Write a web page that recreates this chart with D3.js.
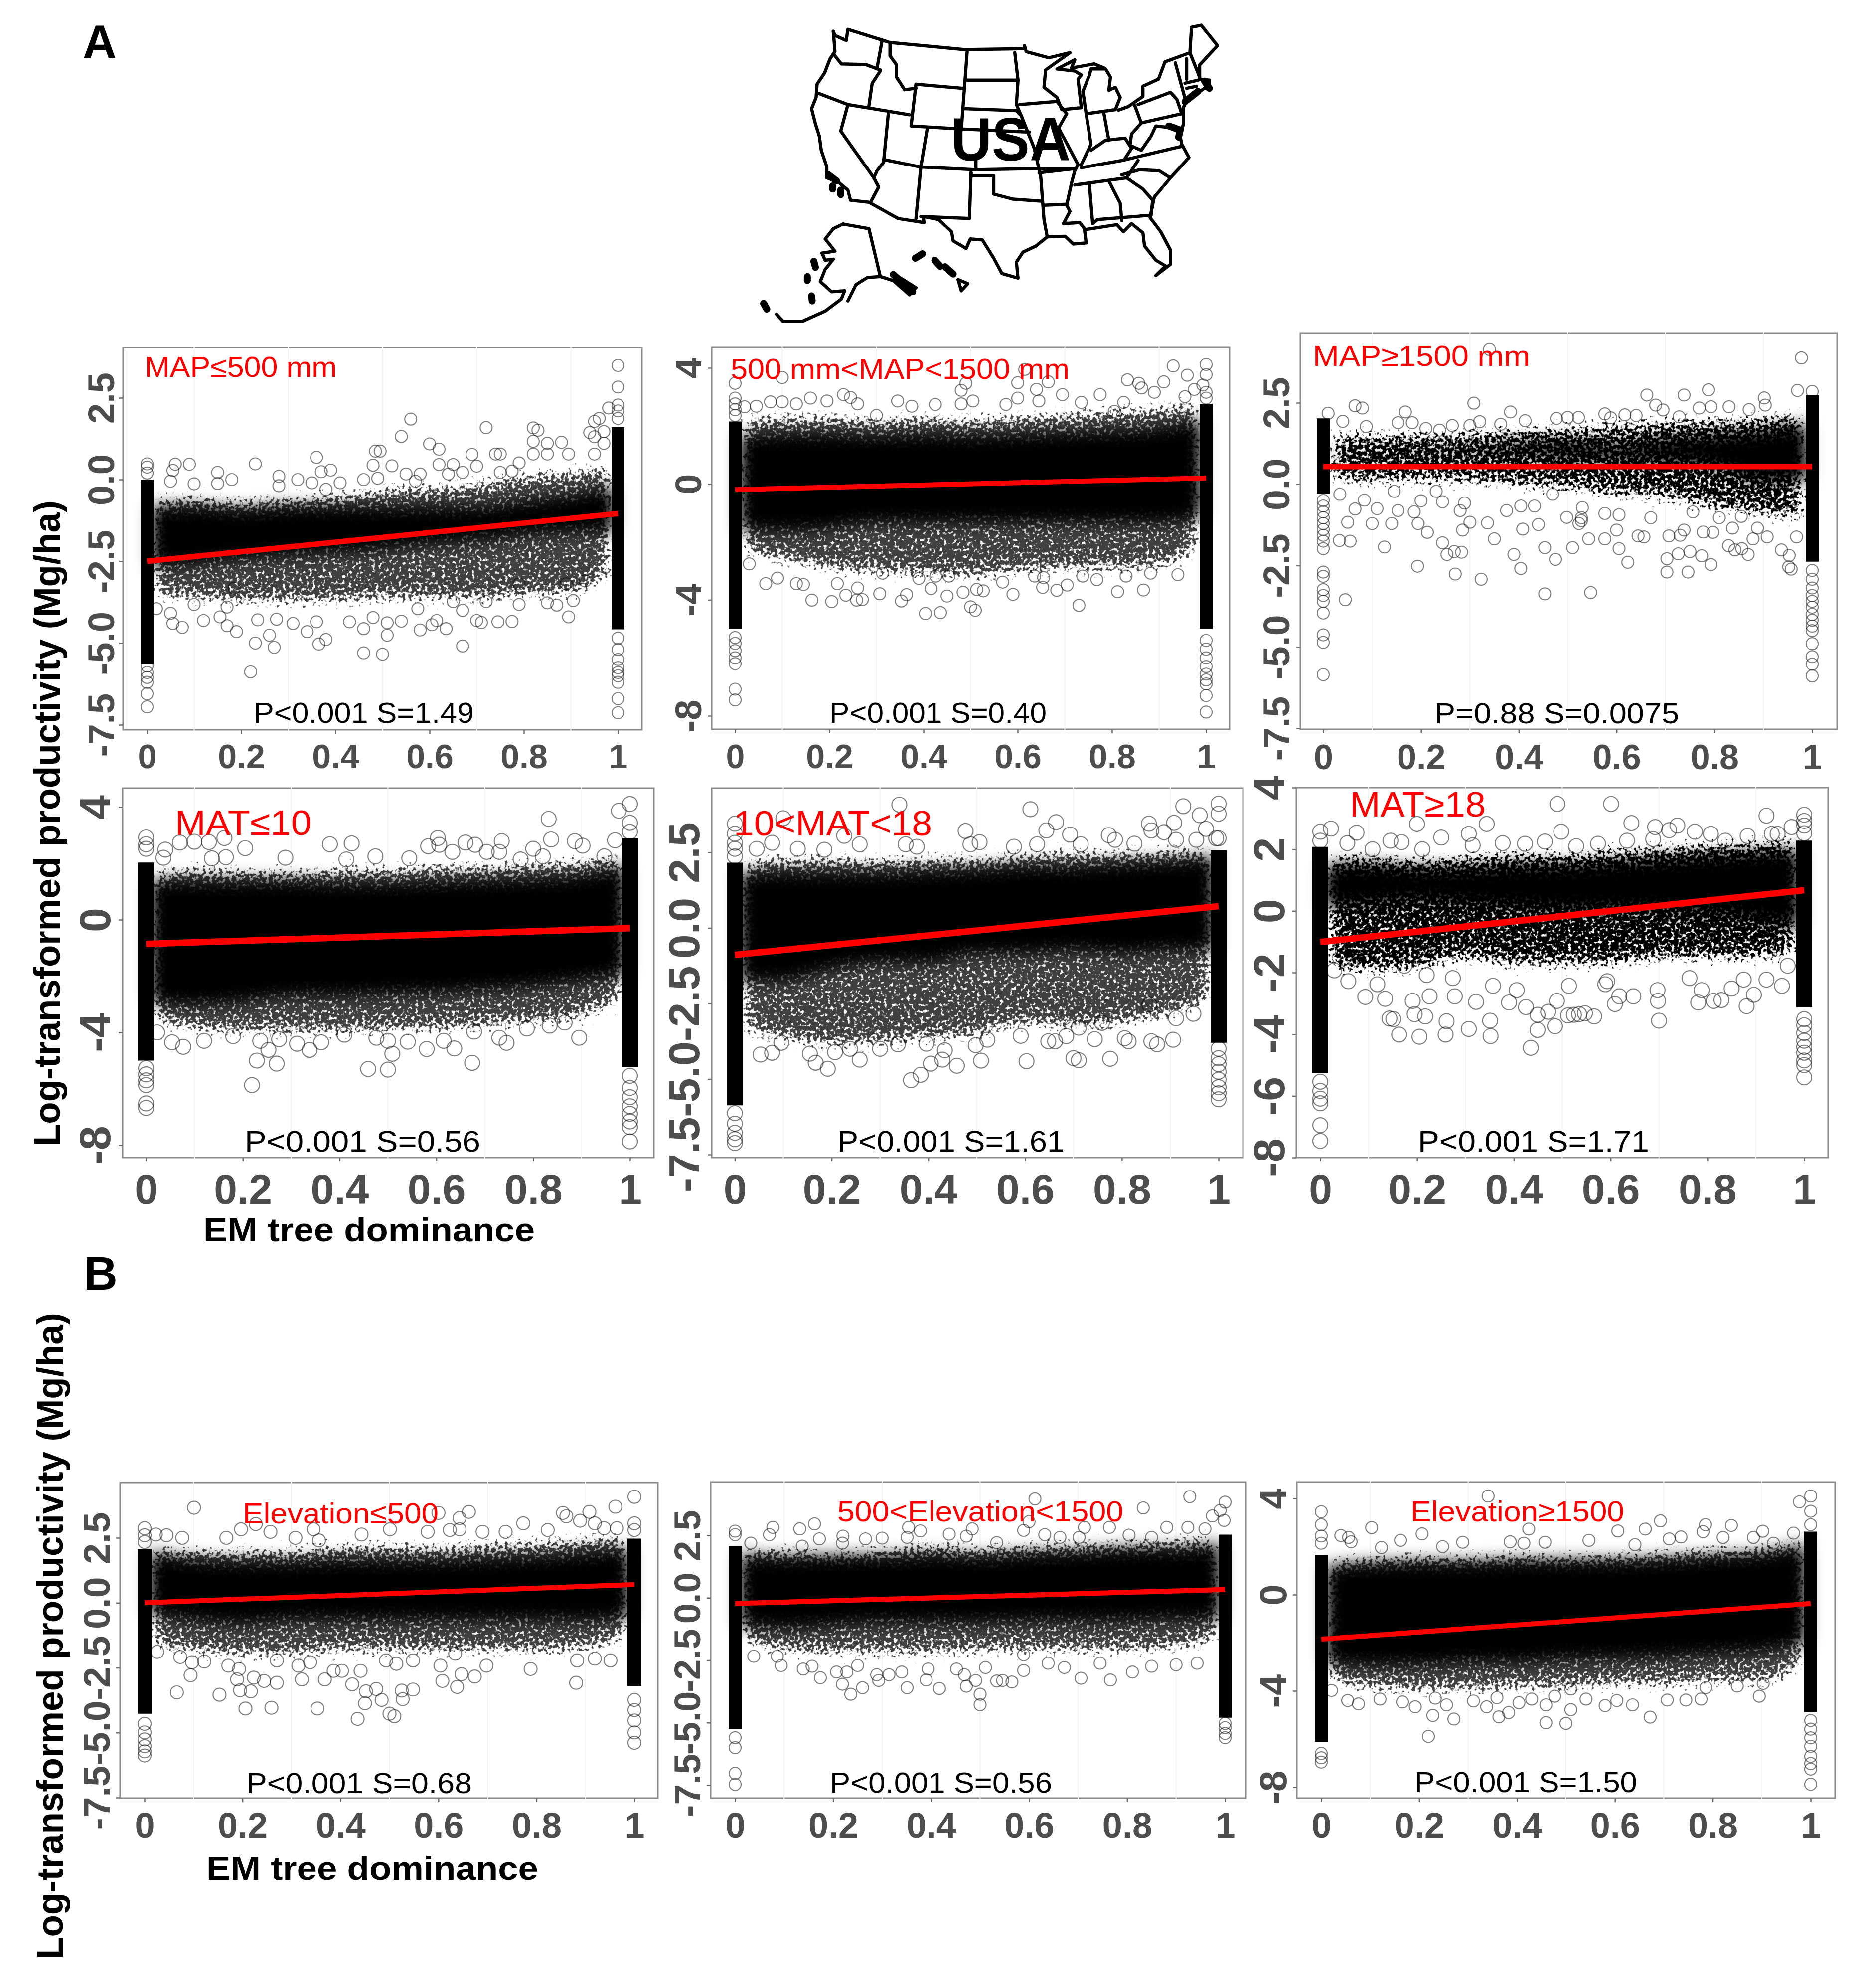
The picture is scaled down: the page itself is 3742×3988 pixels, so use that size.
<!DOCTYPE html>
<html>
<head>
<meta charset="utf-8">
<script src="https://cdn.jsdelivr.net/npm/d3@7"></script>
<style>
  body { margin: 0; background: #fff; }
  text { font-family: "Liberation Sans", Arial, sans-serif; }
</style>
</head>
<body>
<script>
// ---- values ----
var bandX = [0.01, 0.1, 0.2, 0.3, 0.4, 0.5, 0.6, 0.7, 0.8, 0.9, 0.99];
var xTickValues = [0, 0.2, 0.4, 0.6, 0.8, 1];
var xTickLabels = ["0", "0.2", "0.4", "0.6", "0.8", "1"];
var yTicksWide = [2.5, 0, -2.5, -5, -7.5];
var yLabelsWide = ["2.5", "0.0", "-2.5", "-5.0", "-7.5"];
var yTicksFour = [4, 0, -4, -8];
var yLabelsFour = ["4", "0", "-4", "-8"];
var yTicksTwo = [4, 2, 0, -2, -4, -6, -8];
var yLabelsTwo = ["4", "2", "0", "-2", "-4", "-6", "-8"];

var panelTags = ["MAP≤500 mm", "500 mm<MAP<1500 mm", "MAP≥1500 mm", "MAT≤10", "10<MAT<18", "MAT≥18",
  "Elevation≤500", "500<Elevation<1500", "Elevation≥1500"];
var panelStats = ["P<0.001 S=1.49", "P<0.001 S=0.40", "P=0.88 S=0.0075", "P<0.001 S=0.56", "P<0.001 S=1.61",
  "P<0.001  S=1.71", "P<0.001 S=0.68", "P<0.001 S=0.56", "P<0.001 S=1.50"];
// fitted line: y at x=0, y at x=1
var fitLines = [[-2.5, -1.04], [-0.2, 0.2], [0.54, 0.54], [-0.86, -0.3], [-0.89, 0.72], [-1.01, 0.67], [0, 0.7], [-0.23, 0.33], [-1.85, -0.37]];
// solid column of points at x=0 and x=1: top, bottom
var stripZero = [[0, -5.65], [2.15, -5], [2.02, -0.3], [2.03, -5], [2.16, -5.87], [2.08, -5.25], [2.07, -4.27], [2.07, -5.26], [1.66, -6.12]];
var stripOne = [[1.6, -4.58], [2.76, -5], [2.74, -2.38], [2.9, -5.22], [2.57, -3.8], [2.28, -3.12], [2.47, -3.21], [2.53, -4.8], [2.62, -4.88]];

var mapLowCoreTop = [-0.82, -0.82, -0.9, -0.82, -0.82, -0.82, -0.82, -0.82, -0.64, -0.46, -0.19];
var mapLowCoreBottom = [-2.7, -2.6, -2.43, -2.34, -2.25, -2.16, -1.98, -1.89, -1.71, -1.62, -1.62];
var mapLowEdgeTop = [-0.46, -0.46, -0.55, -0.46, -0.37, -0.19, -0.1, 0, 0.26, 0.35, 0.62];
var mapLowEdgeBottom = [-3.68, -3.77, -3.86, -3.86, -3.86, -3.77, -3.77, -3.77, -3.68, -3.6, -2.97];
var mapLowPoints = [[0.09,0.47],[0.06,0.47],[0.055,0.28],[0.05,-0.05],[0.1,-0.13],[0.15,0.22],[0.15,-0.12],[0.18,0],[0.23,0.48],[0.28,0.1],[0.28,-0.19],[0.32,0],[0.35,-0.1],[0.36,0.68],[0.37,0.24],[0.39,0.29],[0.38,-0.3],[0.41,-0.1],[0.46,0],[0.48,0.44],[0.485,0.87],[0.495,0.87],[0.49,0.04],[0.52,0.42],[0.54,1.32],[0.56,1.85],[0.55,0.17],[0.57,-0.05],[0.58,0.17],[0.6,1.09],[0.62,0.93],[0.62,0.46],[0.65,0.46],[0.64,0.17],[0.67,0.22],[0.69,0.77],[0.7,0.41],[0.72,1.59],[0.74,0.78],[0.75,0.78],[0.75,0.22],[0.775,0.26],[0.79,0.51],[0.82,1.58],[0.83,1.51],[0.82,1.17],[0.82,0.78],[0.85,1.11],[0.85,0.78],[0.88,1.14],[0.895,0.78],[0.94,1.44],[0.95,1.78],[0.96,1.87],[0.98,2.19],[0.97,1.47],[0.95,1.31],[0.97,1.11],[0.95,0.78],
  [0.02,-3.95],[0.05,-4.09],[0.055,-4.4],[0.075,-4.52],[0.12,-4.31],[0.155,-4.2],[0.17,-4.47],[0.19,-4.65],[0.235,-4.29],[0.23,-5],[0.27,-5.13],[0.22,-5.88],[0.26,-4.76],[0.275,-4.27],[0.31,-4.4],[0.34,-4.65],[0.36,-4.35],[0.365,-5.03],[0.38,-4.89],[0.43,-4.35],[0.46,-4.56],[0.48,-4.22],[0.46,-5.3],[0.5,-5.34],[0.51,-4.76],[0.51,-4.38],[0.54,-4.33],[0.575,-3.95],[0.58,-4.6],[0.605,-4.44],[0.615,-4.31],[0.635,-4.56],[0.67,-5.09],[0.67,-4],[0.7,-4.31],[0.71,-4.37],[0.745,-4.35],[0.775,-4.34],[0.79,-3.82],[0.85,-3.77],[0.87,-3.84],[0.905,-3.7],[0.895,-4.2],[0.93,-3.1],[0.89,-3.19],[0.79,-3.19],[0.65,-3.73],[0.185,-3.32],[0.17,-3.9],[0.1,-3.82],[0.72,-3.73],
  [0,0.48],[0,0.38],[0,0.2],[0,-5.7],[0,-5.9],[0,-6.05],[0,-6.2],[0,-6.55],[0,-6.95],
  [1,3.49],[1,2.83],[1,2.28],[1,2.1],[1,1.87],[1,-4.85],[1,-5.2],[1,-5.5],[1,-5.75],[1,-5.9],[1,-6],[1,-6.2],[1,-6.7],[1,-7.13]];

var mapMidCoreTop = [1.65, 1.75, 1.75, 1.7, 1.75, 1.7, 1.75, 1.8, 1.85, 1.95, 2.25];
var mapMidCoreBottom = [-1.57, -1.67, -1.57, -1.37, -1.37, -1.37, -1.37, -1.37, -1.37, -1.37, -1.17];
var mapMidEdgeTop = [2.35, 2.45, 2.45, 2.35, 2.45, 2.35, 2.45, 2.55, 2.65, 2.75, 2.95];
var mapMidEdgeBottom = [-2.48, -2.78, -3.08, -3.18, -3.28, -3.33, -3.18, -3.08, -3.08, -2.98, -2.38];
var mapMidPoints = [[0,3.47],[0,2.96],[0.02,2.66],[0.045,2.68],[0.075,2.83],[0.1,2.83],[0.1,3.67],[0.13,2.76],[0.16,2.96],[0.195,2.86],[0.23,3.08],[0.245,2.98],[0.26,2.76],[0.3,2.36],[0.345,2.86],[0.375,2.68],[0.425,2.74],[0.48,3.23],[0.49,3.47],[0.505,2.86],[0.48,2.76],[0.575,2.74],[0.6,2.96],[0.6,3.49],[0.615,3.95],[0.64,3.26],[0.665,3.52],[0.645,2.86],[0.695,3.08],[0.735,2.81],[0.775,3.08],[0.805,2.5],[0.833,3.59],[0.857,3.47],[0.863,3.31],[0.89,3.16],[0.91,3.52],[0.93,4.07],[0.96,3.75],[0.993,3.41],[0.975,3.26],[0.955,3.01],[0.825,2.81],
  [1,4.12],[1,3.77],[1,3.16],[1,2.96],[0,2.76],[0,2.56],[0,2.36],
  [0.065,-3.44],[0.09,-3.25],[0.03,-2.76],[0.13,-3.44],[0.145,-3.47],[0.163,-4.01],[0.205,-4.06],[0.217,-3.44],[0.235,-3.84],[0.258,-4.01],[0.27,-3.99],[0.26,-3.59],[0.307,-3.79],[0.353,-4.04],[0.364,-3.82],[0.313,-3.08],[0.39,-3.26],[0.416,-3.61],[0.426,-3.18],[0.404,-4.47],[0.436,-4.44],[0.45,-3.87],[0.484,-3.74],[0.5,-4.24],[0.51,-4.36],[0.513,-3.64],[0.527,-3.69],[0.568,-3.39],[0.59,-3.81],[0.653,-3.57],[0.655,-3.23],[0.683,-3.67],[0.705,-3.49],[0.73,-4.19],[0.768,-3.3],[0.812,-3.72],[0.867,-3.66],[0.882,-3.08],[0.94,-3.13],[0.738,-3.18],[0.83,-3.18],[0.636,-3.18],[0.454,-3.18],
  [0,-5.3],[0,-5.5],[0,-5.75],[0,-6],[0,-6.2],[0,-7.08],[0,-7.45],
  [1,-5.4],[1,-5.7],[1,-6],[1,-6.3],[1,-6.56],[1,-6.76],[1,-6.9],[1,-7.3],[1,-7.87]];

var mapHighCoreTop = [1, 1, 1.05, 1.1, 1.25, 1.3, 1.2, 1.4, 1.5, 1.65, 1.85];
var mapHighCoreBottom = [0.95, 0.95, 0.95, 0.95, 0.95, 0.8, 0.75, 0.7, 0.5, 0.1, 0.1];
var mapHighEdgeTop = [1.7, 1.7, 1.7, 1.75, 1.85, 1.9, 2, 2.1, 2.15, 2.2, 2.4];
var mapHighEdgeBottom = [-0.1, -0.1, -0.05, -0.1, -0.2, -0.3, -0.5, -0.6, -0.9, -1.1, -1.3];
var mapHighPoints = [[0.01,2.18],[0.04,1.93],[0.065,2.41],[0.08,2.34],[0.088,1.77],[0.168,2.22],[0.153,1.89],[0.182,1.89],[0.21,1.71],[0.238,1.66],[0.308,2.49],[0.264,1.8],[0.32,1.92],[0.3,1.8],[0.383,2.22],[0.413,1.95],[0.363,1.84],[0.477,2.02],[0.5,2.05],[0.522,2.05],[0.576,2.16],[0.588,2.04],[0.617,2.13],[0.64,2.11],[0.662,2.74],[0.68,2.43],[0.695,2.28],[0.738,2.74],[0.788,2.9],[0.793,2.38],[0.83,2.38],[0.902,2.65],[0.904,2.43],[0.97,2.88],[0.978,3.88],[0.34,4.14],[0.728,2.07],[0.769,2.34],[0.871,2.29],
  [0,-0.5],[0,-0.67],[0,-0.85],[0,-1.03],[0,-1.21],[0,-1.39],[0,-1.57],[0,-1.75],[0,-1.98],[0,-2.7],[0,-2.83],[0,-3.24],[0,-3.42],[0,-3.6],[0,-3.96],[0,-4.63],[0,-4.86],[0,-5.85],
  [1,2.85],[1,-2.65],[1,-2.92],[1,-3.19],[1,-3.42],[1,-3.6],[1,-3.78],[1,-4],[1,-4.18],[1,-4.36],[1,-4.5],[1,-4.9],[1,-5.3],[1,-5.53],[1,-5.89],
  [0.045,-3.55],[0.055,-1.75],[0.033,-1.73],[0.05,-1.17],[0.065,-0.76],[0.1,-1.21],[0.125,-1.93],[0.14,-1.21],[0.11,-0.75],[0.153,-0.81],[0.186,-0.85],[0.194,-1.21],[0.2,-0.51],[0.213,-1.48],[0.193,-2.52],[0.244,-0.54],[0.244,-1.8],[0.253,-2.16],[0.268,-2.07],[0.283,-2.09],[0.27,-2.76],[0.323,-2.92],[0.285,-1.41],[0.289,-0.58],[0.336,-1.19],[0.35,-1.68],[0.3,-1.17],[0.39,-2.16],[0.404,-2.59],[0.408,-1.38],[0.404,-0.67],[0.432,-0.67],[0.44,-1.24],[0.453,-1.95],[0.475,-2.31],[0.453,-3.37],[0.547,-3.33],[0.51,-1.95],[0.498,-1.02],[0.528,-1.12],[0.528,-1.03],[0.543,-1.68],[0.576,-1.68],[0.576,-0.9],[0.6,-1.41],[0.605,-1.98],[0.623,-2.4],[0.605,-0.94],[0.644,-1.59],[0.656,-1.62],[0.703,-2.29],[0.703,-2.7],[0.746,-2.7],[0.726,-2.14],[0.75,-2.07],[0.774,-2.2],[0.793,-2.47],[0.707,-1.59],[0.73,-1.57],[0.738,-1.41],[0.756,-0.85],[0.777,-1.47],[0.797,-1.48],[0.829,-1.89],[0.842,-2.02],[0.856,-1.98],[0.869,-2.16],[0.837,-1.35],[0.879,-1.68],[0.908,-1.62],[0.937,-2.02],[0.953,-2.19],[0.957,-2.61],[0.952,-2.54],[0.968,-1.62],[0.855,-0.99],[0.888,-1.35],[0.67,-1.03],[0.53,-0.72],[0.469,-0.31],[0.375,-0.81],[0.28,-0.81],[0.231,-0.22],[0.145,-0.22],[0.034,-0.31],[0.084,-0.49],[0.523,-1.21],[0.81,-1.03]];

var matLowCoreTop = [1.39, 1.39, 1.39, 1.39, 1.33, 1.33, 1.39, 1.44, 1.49, 1.6, 1.93];
var matLowCoreBottom = [-2.94, -3.05, -2.94, -2.73, -2.73, -2.67, -2.62, -2.51, -2.4, -2.19, -1.97];
var matLowEdgeTop = [1.82, 1.93, 1.87, 1.82, 1.93, 1.93, 2.03, 2.03, 2.14, 2.2, 2.47];
var matLowEdgeBottom = [-3.7, -4.03, -4.13, -4.13, -4.13, -4.08, -4.03, -3.92, -3.81, -3.59, -2.94];
var matLowPoints = [[0.04,2.49],[0.036,2.2],[0.07,2.74],[0.1,2.77],[0.13,2.76],[0.162,2.9],[0.136,2.18],[0.165,2.22],[0.205,2.54],[0.288,2.2],[0.38,2.68],[0.425,2.71],[0.414,2.14],[0.474,2.25],[0.544,2.18],[0.583,2.61],[0.603,2.9],[0.606,2.66],[0.633,2.41],[0.66,2.74],[0.68,2.66],[0.735,2.79],[0.704,2.41],[0.73,2.41],[0.8,2.52],[0.832,3.58],[0.837,2.85],[0.886,2.79],[0.902,2.63],[0.969,2.82],[0.977,3.87],[0.947,2.25],[0.82,2.25],[0.774,2.14],
  [1,4.11],[1,3.44],[1,3.12],[0,2.92],[0,2.68],[0,2.52],
  [0.023,-4],[0.054,-4.35],[0.077,-4.51],[0.12,-4.3],[0.18,-4.13],[0.219,-5.87],[0.229,-5],[0.27,-5.11],[0.253,-4.62],[0.275,-4.24],[0.236,-4.3],[0.312,-4.4],[0.338,-4.62],[0.362,-4.35],[0.41,-4.08],[0.459,-5.3],[0.5,-5.32],[0.509,-4.76],[0.5,-4.3],[0.476,-4.19],[0.541,-4.33],[0.58,-4.59],[0.615,-4.3],[0.637,-4.57],[0.674,-5.08],[0.678,-3.97],[0.73,-4.19],[0.745,-4.37],[0.787,-3.86],[0.834,-3.76],[0.865,-3.65],[0.895,-4.19],
  [0,-5.27],[0,-5.49],[0,-5.7],[0,-5.87],[0,-6.52],[0,-6.68],
  [1,-5.54],[1,-5.97],[1,-6.3],[1,-6.62],[1,-6.89],[1,-7.16],[1,-7.36],[1,-7.87]];

var matMidCoreTop = [1.81, 1.86, 1.86, 1.86, 1.91, 1.96, 2.06, 2.06, 2.16, 2.21, 2.37];
var matMidCoreBottom = [-1.78, -1.78, -1.38, -1.17, -1.17, -0.87, -0.87, -0.77, -0.87, -0.77, -0.77];
var matMidEdgeTop = [2.26, 2.42, 2.42, 2.37, 2.42, 2.42, 2.57, 2.62, 2.62, 2.67, 2.72];
var matMidEdgeBottom = [-3.5, -3.8, -4, -3.95, -3.8, -3.7, -3.3, -3.4, -3.3, -3, -2.49];
var matMidPoints = [[0,3.45],[0,3.12],[0.045,2.62],[0.077,2.82],[0.1,3.63],[0.13,2.62],[0.185,2.59],[0.226,3.05],[0.258,2.77],[0.34,4.08],[0.353,2.77],[0.376,2.69],[0.477,3.21],[0.506,2.84],[0.487,2.77],[0.577,2.69],[0.611,3.93],[0.625,2.77],[0.644,3.23],[0.664,3.5],[0.693,3.09],[0.715,2.77],[0.773,3.07],[0.786,2.92],[0.826,2.79],[0.856,3.45],[0.861,3.23],[0.887,3.17],[0.908,3.48],[0.927,4.03],[0.961,3.73],[0.974,3.28],[0.912,2.92],[0.954,2.92],[0.995,2.97],
  [1,4.11],[1,3.78],[1,2.97],[0,2.82],[0,2.62],[0,2.37],
  [0.053,-4.19],[0.077,-4.13],[0.096,-3.8],[0.155,-4.16],[0.167,-4.46],[0.192,-4.66],[0.258,-4.36],[0.207,-4.11],[0.238,-4],[0.3,-4],[0.337,-3.85],[0.364,-5.04],[0.384,-4.86],[0.405,-4.49],[0.396,-3.83],[0.434,-4.05],[0.429,-4.36],[0.459,-4.56],[0.509,-4.39],[0.498,-3.88],[0.522,-3.7],[0.591,-3.57],[0.603,-4.41],[0.648,-3.75],[0.662,-3.75],[0.685,-3.58],[0.7,-4.31],[0.711,-4.38],[0.744,-3.68],[0.776,-4.33],[0.711,-3.3],[0.806,-3.65],[0.814,-3.75],[0.861,-3.75],[0.873,-3.85],[0.906,-3.7],[0.912,-2.99],[0.948,-2.84],[0.759,-3.14],[0.857,-2.54],
  [0,-6.13],[0,-6.48],[0,-6.78],[0,-6.99],[0,-7.12],
  [1,-4],[1,-4.31],[1,-4.51],[1,-4.76],[1,-5.02],[1,-5.27],[1,-5.47],[1,-5.67]];

var matHighCoreTop = [1.49, 1.49, 1.39, 1.39, 1.49, 1.49, 1.58, 1.68, 1.78, 1.88, 1.98];
var matHighCoreBottom = [0.1, 0.2, 0.3, 0.2, 0.1, 0, 0, 0, -0.1, -0.3, -0.59];
var matHighEdgeTop = [1.88, 1.88, 1.78, 1.88, 1.98, 1.98, 2.08, 2.18, 2.28, 2.33, 2.48];
var matHighEdgeBottom = [-1.98, -2.08, -1.98, -1.68, -1.88, -1.88, -1.88, -1.68, -1.68, -1.68, -1.49];
var matHighPoints = [[0,2.57],[0.022,2.67],[0.075,2.54],[0.056,2.2],[0.108,2],[0.145,2.28],[0.168,2.23],[0.2,2.82],[0.211,2],[0.25,2.38],[0.307,2.5],[0.344,2.82],[0.315,2.13],[0.377,2.2],[0.423,2.18],[0.464,2.25],[0.49,3.47],[0.498,2.57],[0.529,2.1],[0.601,3.47],[0.574,2.18],[0.643,2.85],[0.692,2.72],[0.738,2.77],[0.721,2.62],[0.774,2.57],[0.807,2.5],[0.688,2.33],[0.634,2.28],[0.837,2.28],[0.883,2.43],[0.922,3.09],[0.933,2.5],[0.945,2.5],[0.974,2.72],
  [1,3.12],[1,2.92],[1,2.77],[1,2.52],[0,2.28],
  [0.029,-1.93],[0.058,-2.28],[0.093,-2.79],[0.134,-2.85],[0.118,-2.38],[0.143,-3.49],[0.151,-3.51],[0.163,-4.01],[0.205,-4.08],[0.191,-2.92],[0.195,-3.35],[0.217,-3.42],[0.259,-4.01],[0.261,-3.58],[0.307,-3.83],[0.352,-4.06],[0.351,-3.56],[0.322,-2.95],[0.278,-2.77],[0.226,-2.77],[0.39,-2.97],[0.425,-3.12],[0.449,-3.37],[0.449,-3.86],[0.435,-4.44],[0.485,-3.74],[0.489,-2.92],[0.471,-3.27],[0.512,-3.39],[0.524,-3.37],[0.535,-3.35],[0.547,-3.32],[0.566,-3.42],[0.609,-3.02],[0.618,-2.77],[0.589,-2.38],[0.647,-2.77],[0.698,-2.92],[0.7,-3.56],[0.697,-2.57],[0.781,-2.97],[0.813,-2.92],[0.829,-2.89],[0.788,-2.57],[0.85,-2.52],[0.881,-3.09],[0.896,-2.72],[0.922,-2.23],[0.954,-2.43],[0.875,-2.23],[0.763,-2.18],[0.966,-1.78],[0.357,-2.43],[0.274,-2.18],[0.174,-1.78],[0.514,-2.43],[0.593,-2.28],[0.22,-2.08],[0.406,-2.57],
  [0,-5.54],[0,-5.84],[0,-6.09],[0,-6.24],[0,-6.95],[0,-7.46],
  [1,-3.51],[1,-3.71],[1,-3.96],[1,-4.21],[1,-4.41],[1,-4.6],[1,-4.85],[1,-5],[1,-5.4]];

var elevLowCoreTop = [1.94, 1.68, 1.61, 1.61, 1.68, 1.68, 1.68, 1.74, 1.81, 1.94, 2.07];
var elevLowCoreBottom = [-0.44, -0.7, -0.83, -0.7, -0.7, -0.7, -0.7, -0.7, -0.7, -0.7, -0.57];
var elevLowEdgeTop = [2.34, 2.14, 2.14, 2.14, 2.34, 2.34, 2.27, 2.4, 2.47, 2.6, 2.73];
var elevLowEdgeBottom = [-1.76, -2.02, -2.15, -2.15, -2.02, -2.02, -2.02, -2.02, -2.02, -1.89, -1.49];
var elevLowPoints = [[0,2.87],[0.023,2.63],[0.045,2.6],[0.077,2.5],[0.101,3.66],[0.167,2.5],[0.197,2.83],[0.227,3.03],[0.257,2.73],[0.308,2.5],[0.345,2.83],[0.356,2.4],[0.443,2.63],[0.501,2.83],[0.578,2.73],[0.6,3.46],[0.623,2.8],[0.643,3.26],[0.662,3.5],[0.643,2.83],[0.69,2.73],[0.737,2.73],[0.773,3.06],[0.823,2.8],[0.854,3.46],[0.861,3.33],[0.889,3.16],[0.908,3.5],[0.919,3.06],[0.961,3.7],[0.938,2.87],[0.964,2.87],[1,4.08],
  [0,2.6],[0,2.34],[1,3.06],[1,2.8],
  [0.026,-1.89],[0.073,-2.09],[0.066,-3.45],[0.094,-2.79],[0.097,-2.29],[0.153,-3.54],[0.122,-2.26],[0.171,-2.42],[0.193,-2.55],[0.189,-2.95],[0.195,-3.37],[0.217,-3.41],[0.206,-4.07],[0.259,-4.04],[0.223,-2.88],[0.244,-3.01],[0.27,-3.08],[0.321,-2.95],[0.314,-2.42],[0.338,-2.29],[0.353,-4.07],[0.368,-2.95],[0.386,-2.62],[0.403,-2.62],[0.441,-2.62],[0.424,-3.14],[0.452,-3.41],[0.473,-3.32],[0.45,-3.87],[0.484,-3.74],[0.435,-4.47],[0.5,-4.27],[0.51,-4.37],[0.525,-3.38],[0.548,-3.34],[0.527,-3.71],[0.608,-3.01],[0.638,-3.24],[0.647,-2.75],[0.674,-2.84],[0.698,-2.42],[0.788,-2.55],[0.881,-3.08],[0.883,-2.22],[0.919,-2.15],[0.951,-2.22],[0.604,-2.42],[0.514,-2.35],[0.493,-2.22],[0.548,-2.22],[0.634,-1.96],[0.27,-2.22],
  [0,-4.66],[0,-4.99],[0,-5.26],[0,-5.52],[0,-5.72],[0,-5.88],
  [1,-3.74],[1,-4.13],[1,-4.53],[1,-4.99],[1,-5.39]];

var elevMidCoreTop = [1.73, 1.62, 1.67, 1.67, 1.73, 1.67, 1.79, 1.84, 1.96, 1.96, 2.19];
var elevMidCoreBottom = [-1.13, -1.25, -1.13, -1.02, -1.02, -1.02, -0.96, -0.96, -0.96, -0.9, -0.9];
var elevMidEdgeTop = [2.07, 2.07, 1.9, 2.07, 2.25, 2.13, 2.25, 2.3, 2.36, 2.42, 2.53];
var elevMidEdgeBottom = [-1.94, -2.28, -2.39, -2.39, -2.39, -2.28, -2.28, -2.28, -2.28, -2.16, -1.82];
var elevMidPoints = [[0.032,2.19],[0.077,2.82],[0.07,2.53],[0.132,2.76],[0.137,2.07],[0.162,2.96],[0.172,2.36],[0.22,2.47],[0.219,2.19],[0.266,2.36],[0.3,2.39],[0.354,2.82],[0.378,2.68],[0.351,2.42],[0.437,2.55],[0.484,2.76],[0.472,2.47],[0.534,2.21],[0.612,3.96],[0.589,2.7],[0.6,3.05],[0.632,2.53],[0.663,2.42],[0.702,2.42],[0.713,2.82],[0.764,2.82],[0.804,2.51],[0.833,3.6],[0.881,2.82],[0.924,2.82],[0.928,4.05],[0.959,2.76],[0.974,3.28],[0.99,3.5],[0.998,3.1],[0.85,2.42],
  [0,2.67],[0,2.53],[1,3.83],
  [0.038,-2.34],[0.086,-2.34],[0.094,-2.71],[0.139,-2.85],[0.157,-2.74],[0.174,-3.2],[0.207,-2.97],[0.228,-2.97],[0.219,-3.46],[0.236,-3.86],[0.26,-3.6],[0.25,-2.71],[0.289,-3.08],[0.293,-3.31],[0.314,-3.08],[0.351,-3.6],[0.34,-2.97],[0.39,-3.29],[0.394,-2.85],[0.417,-3.63],[0.452,-2.85],[0.468,-3.08],[0.472,-3.54],[0.491,-3.31],[0.5,-3.86],[0.5,-4.28],[0.511,-2.79],[0.534,-3.33],[0.546,-3.31],[0.565,-3.37],[0.589,-2.91],[0.639,-2.62],[0.672,-2.79],[0.706,-3.22],[0.745,-2.62],[0.766,-3.29],[0.811,-2.97],[0.85,-2.74],[0.9,-2.68],[0.943,-2.62],[0.589,-2.28],
  [0,-5.6],[0,-6],[0,-7.03],[0,-7.47],
  [1,-5.03],[1,-5.2],[1,-5.43],[1,-5.6]];

var elevHighCoreTop = [1.19, 1.31, 1.37, 1.37, 1.43, 1.43, 1.43, 1.49, 1.6, 1.72, 2.08];
var elevHighCoreBottom = [-2.85, -2.97, -2.97, -2.85, -2.85, -2.73, -2.68, -2.62, -2.5, -2.38, -2.02];
var elevHighEdgeTop = [1.55, 1.66, 1.72, 1.72, 1.78, 1.72, 1.78, 1.9, 2.02, 2.08, 2.5];
var elevHighEdgeBottom = [-3.8, -4.04, -4.16, -4.16, -4.04, -4.04, -3.92, -3.92, -3.8, -3.8, -3.09];
var elevHighPoints = [[0.04,2.46],[0.056,2.38],[0.061,2.2],[0.103,2.79],[0.123,1.96],[0.162,2.26],[0.206,2.53],[0.248,2],[0.289,2.18],[0.341,4.1],[0.386,2.2],[0.414,2.14],[0.424,2.73],[0.457,2.18],[0.547,2.26],[0.606,2.65],[0.641,2.08],[0.662,2.73],[0.693,3.07],[0.711,2.32],[0.735,2.4],[0.785,2.91],[0.78,2.62],[0.838,2.88],[0.821,2.38],[0.902,2.64],[0.883,2.38],[0.965,2.56],[0.977,3.86],[0.924,2.14],
  [0,3.45],[0,2.91],[0,2.44],[0,2.14],[1,4.1],[1,3.47],[1,2.91],
  [0.021,-3.98],[0.054,-4.4],[0.076,-4.54],[0.12,-4.34],[0.166,-4.46],[0.192,-4.66],[0.233,-4.3],[0.228,-5.02],[0.271,-5.17],[0.219,-5.89],[0.256,-4.58],[0.311,-4.42],[0.338,-4.66],[0.363,-5.08],[0.383,-4.9],[0.404,-4.49],[0.43,-4.34],[0.459,-4.58],[0.459,-5.32],[0.5,-5.35],[0.51,-4.78],[0.477,-4.22],[0.541,-4.34],[0.58,-4.61],[0.604,-4.4],[0.636,-4.58],[0.672,-5.09],[0.707,-4.38],[0.745,-4.38],[0.776,-4.34],[0.786,-3.86],[0.895,-4.22],[0.903,-3.69],[0.85,-3.8],[0.51,-3.92],[0.359,-4.28],
  [0,-6.6],[0,-6.78],[0,-6.96],
  [1,-5.23],[1,-5.59],[1,-5.95],[1,-6.3],[1,-6.72],[1,-7.02],[1,-7.25],[1,-7.88]];

var coreTops = [mapLowCoreTop, mapMidCoreTop, mapHighCoreTop, matLowCoreTop, matMidCoreTop, matHighCoreTop, elevLowCoreTop, elevMidCoreTop, elevHighCoreTop];
var coreBottoms = [mapLowCoreBottom, mapMidCoreBottom, mapHighCoreBottom, matLowCoreBottom, matMidCoreBottom, matHighCoreBottom, elevLowCoreBottom, elevMidCoreBottom, elevHighCoreBottom];
var edgeTops = [mapLowEdgeTop, mapMidEdgeTop, mapHighEdgeTop, matLowEdgeTop, matMidEdgeTop, matHighEdgeTop, elevLowEdgeTop, elevMidEdgeTop, elevHighEdgeTop];
var edgeBottoms = [mapLowEdgeBottom, mapMidEdgeBottom, mapHighEdgeBottom, matLowEdgeBottom, matMidEdgeBottom, matHighEdgeBottom, elevLowEdgeBottom, elevMidEdgeBottom, elevHighEdgeBottom];
var allPoints = [mapLowPoints, mapMidPoints, mapHighPoints, matLowPoints, matMidPoints, matHighPoints, elevLowPoints, elevMidPoints, elevHighPoints];

// ---- traced outline of the map, in the inset's own units ----
var mapLines = [
  [[295,105],[298,160],[300,205],[285,240],[268,310],[245,365],[242,430],[228,485],[240,560],[252,620],[258,690],[275,770],[275,825],[310,845],[340,885],[348,935],[405,945],[495,1025],[575,1045],[572,1015],[620,1030],[660,1090],[665,1135],[705,1172],[718,1125],[755,1130],[790,1220],[815,1295],[865,1318],[860,1240],[880,1190],[920,1160],[955,1115],[1010,1112],[1035,1150],[1075,1145],[1070,1080],[1110,1070],[1170,1055],[1190,1090],[1215,1050],[1250,1095],[1255,1160],[1290,1230],[1320,1258],[1290,1305],[1335,1250],[1335,1180],[1305,1090],[1272,1020],[1285,920],[1335,825],[1392,725],[1370,660],[1365,620],[1375,560],[1375,480],[1385,445],[1440,385],[1455,390],[1455,345],[1425,340],[1425,270],[1480,175],[1430,75],[1400,85],[1395,210],[1318,255],[1298,340],[1250,375],[1250,425],[1205,475],[1175,492]],
  [[1025,210],[960,235],[890,205],[885,175],[885,190],[700,195],[470,160],[340,95],[335,150],[300,125],[295,105]],
  [[1025,210],[950,295],[945,380],[985,430],[1000,490],[1060,480],[1050,340],[1060,320],[1040,300],[985,290],[1040,245],[1030,285],[1100,265],[1130,285]],
  [[1085,320],[1065,400],[1075,510],[1165,490],[1180,430],[1165,380],[1145,395],[1150,330],[1135,290],[1090,290],[1085,320]],
  [[445,155],[430,285],[440,300],[415,360],[405,470]],
  [[470,165],[470,225],[490,270],[490,330],[515,392],[550,385]],
  [[295,215],[320,265],[395,268],[440,295]],
  [[250,410],[340,465],[530,515]],
  [[550,365],[695,385]],
  [[550,365],[535,570],[690,585],[900,600]],
  [[708,205],[695,480],[690,590]],
  [[340,465],[318,595],[420,825],[430,790],[450,750],[465,505]],
  [[420,825],[435,870],[410,945]],
  [[450,735],[565,772],[735,785],[915,780],[1040,780]],
  [[735,730],[735,785]],
  [[585,580],[565,772],[550,1025]],
  [[700,485],[860,495],[875,520]],
  [[708,345],[865,345]],
  [[855,210],[865,345],[860,465],[875,520],[915,680],[935,820],[945,1030],[955,1115]],
  [[870,465],[980,450]],
  [[985,450],[1015,510],[990,580],[1020,670],[1050,760],[1040,790],[1030,850],[1015,960],[1025,990],[1005,1050],[1055,1045],[1070,1075]],
  [[720,800],[715,1025],[565,1015]],
  [[720,800],[720,815],[790,815],[790,905],[850,930],[940,940]],
  [[945,960],[1015,955]],
  [[930,800],[1040,780]],
  [[1075,510],[1090,660],[1060,760]],
  [[1130,510],[1145,640]],
  [[1090,690],[1135,640],[1195,630],[1215,680],[1195,730]],
  [[1040,860],[1200,825],[1235,740]],
  [[1060,775],[1185,740],[1370,670]],
  [[1235,465],[1335,405],[1355,440],[1370,510],[1245,555]],
  [[1225,470],[1245,555],[1215,610],[1210,665],[1245,690],[1275,620],[1290,570],[1345,580]],
  [[1085,855],[1095,1050]],
  [[1145,840],[1180,950],[1185,1035]],
  [[1095,1050],[1110,1030],[1265,1010]],
  [[1200,825],[1250,880],[1280,935],[1275,1010]],
  [[1185,810],[1240,785],[1300,790],[1335,825]],
  [[1350,260],[1380,435]],
  [[1385,240],[1385,340]],
  [[1395,210],[1425,330]],
  [[1380,360],[1420,345]],
  [[1385,385],[1415,375]],
  // alaska
  [[325,1052],[295,1075],[270,1125],[300,1185],[260,1195],[270,1230],[295,1225],[270,1275],[255,1335],[290,1385],[330,1380],[320,1420],[270,1480],[200,1530],[140,1530],[120,1495]],
  [[325,1052],[405,1075],[440,1310],[400,1315],[365,1350],[340,1430]],
  [[440,1310],[480,1330],[530,1400],[550,1365],[480,1295]],
  // hawaii
  [[680,1325],[710,1345],[690,1380],[680,1325]]
];
var mapThickLines = [
  [[1330,570],[1365,590],[1360,625]],
  [[1380,450],[1420,400]],
  [[1440,350],[1455,385]],
  [[480,1300],[540,1385]],
  [[235,1235],[240,1265]],
  [[215,1310],[215,1330]],
  [[228,1405],[230,1430]],
  [[80,1442],[90,1470]],
  [[548,1220],[570,1198]],
  [[608,1230],[625,1260]],
  [[640,1262],[665,1298]],
  [[280,810],[305,840]],
  [[293,865],[293,880]],
  [[318,885],[318,908]]
];

// ---- layout, in page pixels ----
var page = { width: 3742, height: 3988 };
var frames = [
  { left:247,  right:1288, top:697.5, bottom:1464, x0:295,  x1:1240, y:[2.5,798,-7.5,1454],  ticks:yTicksWide, labels:yLabelsWide, labelX:229,  yFont:74, xBase:1541, xFont:68, r:12, line:11, tag:[290,676,756,58],   stat:[509,951,1450,57], fill:"speckle" },
  { left:1428, right:2467, top:697,   bottom:1463, x0:1475, x1:2420, y:[4,738,-8,1436],      ticks:yTicksFour, labels:yLabelsFour, labelX:1407, yFont:74, xBase:1541, xFont:68, r:12, line:10, tag:[1466,2146,760,58], stat:[1664,2100,1450,57], fill:"speckle" },
  { left:2609, right:3686, top:669,   bottom:1463, x0:2655, x1:3636, y:[2.5,808,-7.5,1461],  ticks:yTicksWide, labels:yLabelsWide, labelX:2587, yFont:75, xBase:1543, xFont:70, r:12, line:11, tag:[2634,3070,734,58], stat:[2878,3369,1451,57], fill:"speckleThin" },
  { left:246,  right:1312, top:1581,  bottom:2322, x0:293,  x1:1264, y:[4,1619,-8,2297],     ticks:yTicksFour, labels:yLabelsFour, labelX:221,  yFont:88, xBase:2415, xFont:84, r:15, line:13, tag:[351,625,1675,70],  stat:[491,964,2310,60], fill:"speckle" },
  { left:1428, right:2494, top:1581,  bottom:2322, x0:1474.5, x1:2445, y:[2.5,1710,-7.5,2316], ticks:yTicksWide, labels:yLabelsWide, labelX:1403, yFont:88, xBase:2415, xFont:84, r:15, line:13, tag:[1472,1870,1676,70], stat:[1680,2136,2310,60], fill:"speckle" },
  { left:2601, right:3668, top:1580,  bottom:2322, x0:2649, x1:3620, y:[4,1580,-8,2322],     ticks:yTicksTwo, labels:yLabelsTwo, labelX:2577, yFont:88, xBase:2415, xFont:84, r:15, line:13, tag:[2708,2981,1638,70], stat:[2845,3309,2310,60], fill:"speckleMid" },
  { left:241,  right:1320, top:2974,  bottom:3607, x0:290,  x1:1273, y:[2.5,3085,-7.5,3606], ticks:yTicksWide, labels:yLabelsWide, labelX:220,  yFont:75, xBase:3687, xFont:72, r:13, line:10, tag:[487,880,3056,58],  stat:[494,947,3597,58], fill:"speckle" },
  { left:1426, right:2500, top:2973,  bottom:3607, x0:1475, x1:2458, y:[2.5,3080,-7.5,3581], ticks:yTicksWide, labels:yLabelsWide, labelX:1405, yFont:74, xBase:3687, xFont:72, r:12, line:10, tag:[1680,2254,3052,58], stat:[1665,2111,3596,58], fill:"speckle" },
  { left:2602, right:3682, top:2973,  bottom:3607, x0:2651, x1:3633, y:[4,3006,-8,3585],     ticks:yTicksFour, labels:yLabelsFour, labelX:2581, yFont:76, xBase:3687, xFont:72, r:12, line:10, tag:[2830,3259,3052,58], stat:[2838,3285,3595,58], fill:"speckle" }
];

var svg = d3.select("body").append("svg")
    .attr("width", page.width)
    .attr("height", page.height)
    .attr("viewBox", "0 0 " + page.width + " " + page.height);

// noise texture for the fringe of the point clouds, it thins out towards the edge of the band
var defs = svg.append("defs");
function addSpeckle(id, density) {
    var f = defs.append("filter").attr("id", id)
        .attr("x", -0.02).attr("y", -0.3).attr("width", 1.04).attr("height", 1.6);
    f.append("feGaussianBlur").attr("in", "SourceAlpha").attr("stdDeviation", 20).attr("result", "b");
    f.append("feTurbulence").attr("type", "fractalNoise")
        .attr("baseFrequency", 0.15).attr("numOctaves", 2).attr("seed", 7).attr("result", "n");
    f.append("feColorMatrix").attr("in", "n").attr("type", "matrix")
        .attr("values", "0 0 0 0 0  0 0 0 0 0  0 0 0 0 0  0 0 0 1 0").attr("result", "na");
    f.append("feComposite").attr("in", "na").attr("in2", "b").attr("operator", "arithmetic")
        .attr("k1", 0).attr("k2", -7).attr("k3", 5).attr("k4", density);
}
addSpeckle("speckle", 0.05);
addSpeckle("speckleMid", -0.1);
addSpeckle("speckleThin", -0.3);
defs.append("filter").attr("id", "soft")
    .attr("x", -0.05).attr("y", -0.25).attr("width", 1.1).attr("height", 1.5)
  .append("feGaussianBlur").attr("stdDeviation", 16);

frames.forEach(function(fr, i) {
    var x = d3.scaleLinear().domain([0, 1]).range([fr.x0, fr.x1]);
    var y = d3.scaleLinear().domain([fr.y[0], fr.y[2]]).range([fr.y[1], fr.y[3]]);
    var g = svg.append("g").attr("class", "panel");

    g.append("rect")
        .attr("x", fr.left).attr("y", fr.top)
        .attr("width", fr.right - fr.left).attr("height", fr.bottom - fr.top)
        .attr("fill", "#fff").attr("stroke", "#8a8a8a").attr("stroke-width", 3);

    // faint vertical grid, it notches the frame like in the original
    g.selectAll(".grid").data(d3.range(0.1, 1, 0.2)).enter().append("line")
        .attr("x1", function(d) { return x(d); }).attr("x2", function(d) { return x(d); })
        .attr("y1", fr.top - 2).attr("y2", fr.bottom + 2)
        .attr("stroke", "#f2f2f2").attr("stroke-width", 2);

    // point clouds
    var rows = bandX.map(function(v, k) {
        return { x: v, coreTop: coreTops[i][k], coreBottom: coreBottoms[i][k], edgeTop: edgeTops[i][k], edgeBottom: edgeBottoms[i][k] };
    });
    var edge = d3.area().curve(d3.curveMonotoneX)
        .x(function(d) { return x(d.x); })
        .y0(function(d) { return y(d.edgeBottom); })
        .y1(function(d) { return y(d.edgeTop); });
    var core = d3.area().curve(d3.curveMonotoneX)
        .x(function(d) { return x(d.x); })
        .y0(function(d) { return y(d.coreBottom); })
        .y1(function(d) { return y(d.coreTop); });
    g.append("path").attr("d", edge(rows)).attr("fill", "#000")
        .attr("filter", "url(#" + fr.fill + ")");
    g.append("path").attr("d", core(rows)).attr("fill", "#000").attr("filter", "url(#soft)");

    // the solid columns at 0 and 1
    [[0, stripZero[i]], [1, stripOne[i]]].forEach(function(s) {
        g.append("line")
            .attr("x1", x(s[0])).attr("x2", x(s[0]))
            .attr("y1", y(s[1][0])).attr("y2", y(s[1][1]))
            .attr("stroke", "#000").attr("stroke-width", fr.r * 2 + 2);
    });

    g.selectAll(".point").data(allPoints[i]).enter().append("circle")
        .attr("class", "point")
        .attr("cx", function(d) { return x(d[0]); })
        .attr("cy", function(d) { return y(d[1]); })
        .attr("r", fr.r)
        .attr("fill", "none")
        .attr("stroke", "#000").attr("stroke-opacity", 0.5).attr("stroke-width", 2.2);

    g.append("line")
        .attr("x1", x(0)).attr("x2", x(1))
        .attr("y1", y(fitLines[i][0])).attr("y2", y(fitLines[i][1]))
        .attr("stroke", "#ff0000").attr("stroke-width", fr.line);

    // axes
    var xAxis = g.append("g")
        .attr("transform", "translate(0," + fr.bottom + ")")
        .call(d3.axisBottom(x).tickValues(xTickValues).tickSize(8)
            .tickFormat(function(d, k) { return xTickLabels[k]; }));
    xAxis.select(".domain").remove();
    xAxis.selectAll("line").attr("stroke", "#6b6b6b").attr("stroke-width", 2.5);
    xAxis.selectAll("text")
        .attr("y", fr.xBase - fr.bottom).attr("dy", 0)
        .attr("fill", "#4d4d4d")
        .style("font-size", fr.xFont + "px").style("font-weight", "bold");

    var yAxis = g.append("g")
        .attr("transform", "translate(" + fr.left + ",0)")
        .call(d3.axisLeft(y).tickValues(fr.ticks).tickSize(8)
            .tickFormat(function(d, k) { return fr.labels[k]; }));
    yAxis.select(".domain").remove();
    yAxis.selectAll("line").attr("stroke", "#6b6b6b").attr("stroke-width", 2.5);
    yAxis.selectAll("text")
        .attr("x", 0).attr("dy", 0)
        .attr("transform", "translate(" + (fr.labelX - fr.left) + ",0) rotate(-90)")
        .attr("text-anchor", "middle")
        .attr("fill", "#4d4d4d")
        .style("font-size", fr.yFont + "px").style("font-weight", "bold");

    // panel labels
    fitText(g, panelTags[i], fr.tag, "#ff0000");
    fitText(g, panelStats[i], fr.stat, "#000");
});

function fitText(parent, str, box, color) {
    parent.append("text")
        .attr("x", box[0]).attr("y", box[2])
        .attr("textLength", box[1] - box[0])
        .attr("lengthAdjust", "spacingAndGlyphs")
        .attr("fill", color)
        .style("font-size", box[3] + "px")
        .text(str);
}

// map inset
var mapX = d3.scaleLinear().domain([0, 1568]).range([1480, 2500]);
var mapY = d3.scaleLinear().domain([0, 1568]).range([20, 660]);
var mapPath = d3.line().x(function(d) { return mapX(d[0]); }).y(function(d) { return mapY(d[1]); });
var mapG = svg.append("g").attr("class", "map")
    .attr("fill", "none").attr("stroke", "#000")
    .attr("stroke-linejoin", "round").attr("stroke-linecap", "round");
mapG.selectAll(".state").data(mapLines).enter().append("path")
    .attr("d", mapPath).attr("stroke-width", 6.5);
mapG.selectAll(".blob").data(mapThickLines).enter().append("path")
    .attr("d", mapPath).attr("stroke-width", 14);

svg.append("text").attr("x", 1908).attr("y", 322)
    .attr("textLength", 240).attr("lengthAdjust", "spacingAndGlyphs")
    .style("font-size", "122px").style("font-weight", "bold").text("USA");

// letters and shared titles
svg.append("text").attr("x", 166).attr("y", 117)
    .style("font-size", "94px").style("font-weight", "bold").text("A");
svg.append("text").attr("x", 168).attr("y", 2587)
    .style("font-size", "94px").style("font-weight", "bold").text("B");

function sideTitle(baseX, bottom, length) {
    svg.append("text")
        .attr("transform", "translate(" + baseX + "," + bottom + ") rotate(-90)")
        .attr("textLength", length).attr("lengthAdjust", "spacingAndGlyphs")
        .style("font-size", "74px").style("font-weight", "bold")
        .text("Log-transformed productivity (Mg/ha)");
}
sideTitle(120, 2299, 1295);
sideTitle(126, 3930, 1297);

function bottomTitle(x0, x1, base) {
    svg.append("text").attr("x", x0).attr("y", base)
        .attr("textLength", x1 - x0).attr("lengthAdjust", "spacingAndGlyphs")
        .style("font-size", "66px").style("font-weight", "bold")
        .text("EM tree dominance");
}
bottomTitle(408, 1073, 2490);
bottomTitle(414, 1080, 3771);
</script>
</body>
</html>
